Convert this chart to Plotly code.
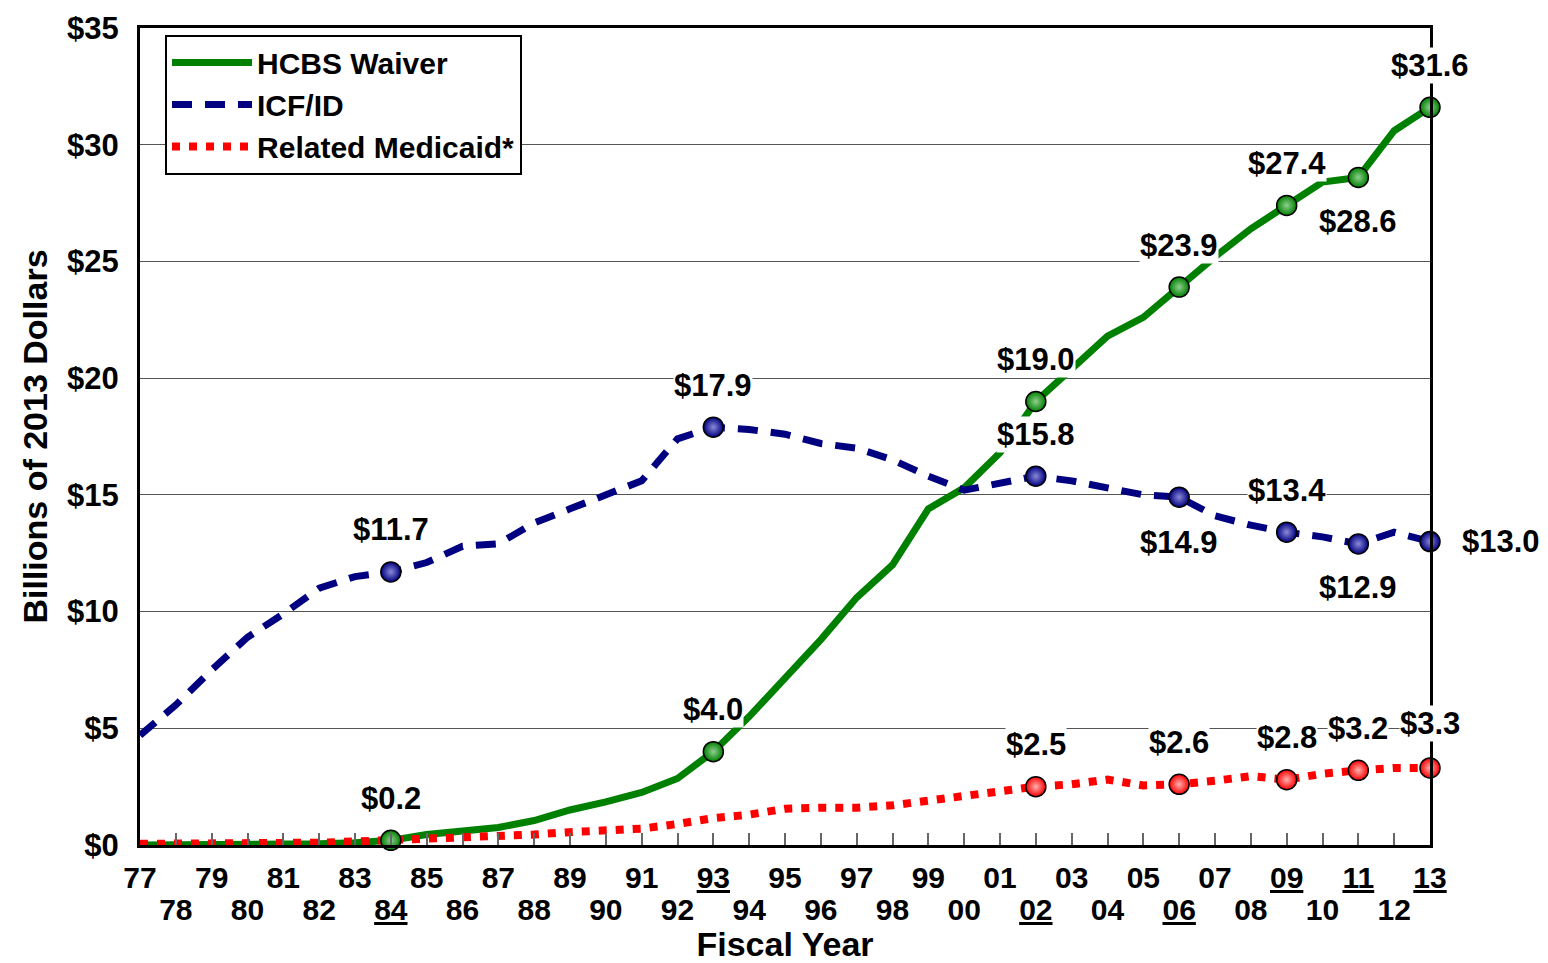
import plotly.graph_objects as go

# ---------------- data ----------------
years = list(range(1977, 2014))

hcbs_waiver = [0.0, 0.0, 0.0, 0.0, 0.0, 0.05, 0.1, 0.2,
               0.45, 0.6, 0.75, 1.05, 1.5, 1.85, 2.25, 2.85, 4.0,
               5.5, 7.1, 8.8, 10.6, 12.0, 14.4, 15.3, 16.8, 19.0,
               20.4, 21.8, 22.6, 23.9, 25.2, 26.4, 27.4, 28.4, 28.6, 30.6, 31.6]

icf_id = [4.7, 6.0, 7.5, 8.9, 9.9, 11.0, 11.5, 11.7,
          12.1, 12.8, 12.9, 13.8, 14.4, 15.0, 15.6, 17.4, 17.9,
          17.8, 17.6, 17.2, 17.0, 16.5, 15.8, 15.2, 15.5, 15.8,
          15.6, 15.3, 15.0, 14.9, 14.1, 13.7, 13.4, 13.2, 12.9, 13.4, 13.0]

related_medicaid = [0.05, 0.05, 0.05, 0.08, 0.1, 0.1, 0.15, 0.2,
                    0.25, 0.3, 0.4, 0.45, 0.55, 0.6, 0.7, 0.9, 1.15,
                    1.3, 1.55, 1.6, 1.6, 1.7, 1.9, 2.1, 2.3, 2.5,
                    2.6, 2.8, 2.55, 2.6, 2.75, 2.95, 2.8, 3.05, 3.2, 3.3, 3.3]

hcbs_marked = [1984, 1993, 2002, 2006, 2009, 2011, 2013]
icf_marked = [1984, 1993, 2002, 2006, 2009, 2011, 2013]
related_marked = [2002, 2006, 2009, 2011, 2013]

underlined_years = [1984, 1993, 2002, 2006, 2009, 2011, 2013]

series_names = ["HCBS Waiver", "ICF/ID", "Related Medicaid*"]

# ---------------- styles ----------------
FONT = "Liberation Sans, Arial, Helvetica, sans-serif"
colors = {"HCBS Waiver": "#008000", "ICF/ID": "#000080", "Related Medicaid*": "#FF0000"}
highlights = {"HCBS Waiver": "#8fd08f", "ICF/ID": "#8a8ad8", "Related Medicaid*": "#ffb0b0"}
dashes = {"HCBS Waiver": "solid", "ICF/ID": "20px,13px", "Related Medicaid*": "8px,9px"}
widths = {"HCBS Waiver": 7, "ICF/ID": 7, "Related Medicaid*": 8}
marker_xaxis = {"HCBS Waiver": "x", "ICF/ID": "x", "Related Medicaid*": "x2"}

# label offsets (pixels) relative to marker: default is above
label_offsets = {
    ("HCBS Waiver", 2011): (0, -44),
    ("ICF/ID", 2006): (0, -45),
    ("ICF/ID", 2011): (0, -44),
    ("ICF/ID", 2013): (71, 0),
    ("Related Medicaid*", 2013): (0, 44),
}
DEFAULT_OFFSET = (0, 42)

data_map = {"HCBS Waiver": hcbs_waiver, "ICF/ID": icf_id, "Related Medicaid*": related_medicaid}
marked_map = {"HCBS Waiver": hcbs_marked, "ICF/ID": icf_marked, "Related Medicaid*": related_marked}

fig = go.Figure()

for name in series_names:
    vals = data_map[name]
    fig.add_trace(go.Scatter(
        x=years, y=vals, mode="lines", name=name,
        line=dict(color=colors[name], width=widths[name], dash=dashes[name]),
        hoverinfo="x+y",
    ))

annotations = []
for name in series_names:
    vals = data_map[name]
    mx = marked_map[name]
    my = [vals[years.index(yr)] for yr in mx]
    fig.add_trace(go.Scatter(
        x=mx, y=my, mode="markers", showlegend=False, name=name,
        xaxis=marker_xaxis[name], yaxis="y",
        cliponaxis=False,
        marker=dict(size=20, color=colors[name],
                    gradient=dict(type="radial", color=highlights[name]),
                    line=dict(color="black", width=1.5)),
    ))
    for xv, yv in zip(mx, my):
        xs, ys = label_offsets.get((name, xv), DEFAULT_OFFSET)
        annotations.append(dict(
            x=xv, y=yv, xref="x", yref="y", text=f"${yv:.1f}",
            showarrow=False, xshift=xs, yshift=ys,
            bgcolor="white", borderpad=0,
            font=dict(family=FONT, size=31, color="black", weight="bold"),
        ))

def tick_label(yr):
    s = f"{yr % 100:02d}"
    return f"<u>{s}</u>" if yr in underlined_years else s

odd_years = [y for y in years if (y - 1977) % 2 == 0]
even_years = [y for y in years if (y - 1977) % 2 == 1]

fig.update_layout(
    width=1540, height=955,
    margin=dict(l=132, r=118, t=20, b=118, autoexpand=False),
    plot_bgcolor="white", paper_bgcolor="white",
    font=dict(family=FONT, size=30, color="black", weight="bold"),
    showlegend=True,
    legend=dict(
        x=0.0194, y=0.992, xanchor="left", yanchor="top",
        bgcolor="white", bordercolor="black", borderwidth=2,
        font=dict(family=FONT, size=30, color="black", weight="bold"),
        itemwidth=80, tracegroupgap=0,
    ),
    xaxis=dict(
        range=[1977, 2013], showgrid=False, zeroline=False, automargin=False,
        tickmode="array", tickvals=years,
        ticktext=[tick_label(y) if y in odd_years else "" for y in years],
        ticks="inside", ticklen=12, tickwidth=1.5, tickcolor="#666",
        showline=True, linecolor="black", linewidth=3, mirror=True,
        ticklabelstandoff=4,
        tickfont=dict(family=FONT, size=30, color="black", weight="bold"),
    ),
    xaxis2=dict(
        range=[1977, 2013], overlaying="x", anchor="y", side="bottom",
        showgrid=False, zeroline=False, showline=False, ticks="", automargin=False,
        tickmode="array", tickvals=even_years,
        ticktext=[tick_label(y) for y in even_years],
        ticklabelstandoff=44,
        tickfont=dict(family=FONT, size=30, color="black", weight="bold"),
        title=dict(text="Fiscal Year", standoff=7,
                   font=dict(family=FONT, size=34, color="black", weight="bold")),
    ),
    yaxis=dict(
        range=[0, 35], dtick=5, tickprefix="$", automargin=False,
        showgrid=True, gridcolor="#555", gridwidth=1, zeroline=False,
        showline=True, linecolor="black", linewidth=3, mirror=True,
        ticks="", ticklabelstandoff=12,
        tickfont=dict(family=FONT, size=31, color="black", weight="bold"),
        title=dict(text="Billions of 2013 Dollars", standoff=10,
                   font=dict(family=FONT, size=34, color="black", weight="bold")),
    ),
    annotations=annotations,
)

fig.write_html("out.html")
